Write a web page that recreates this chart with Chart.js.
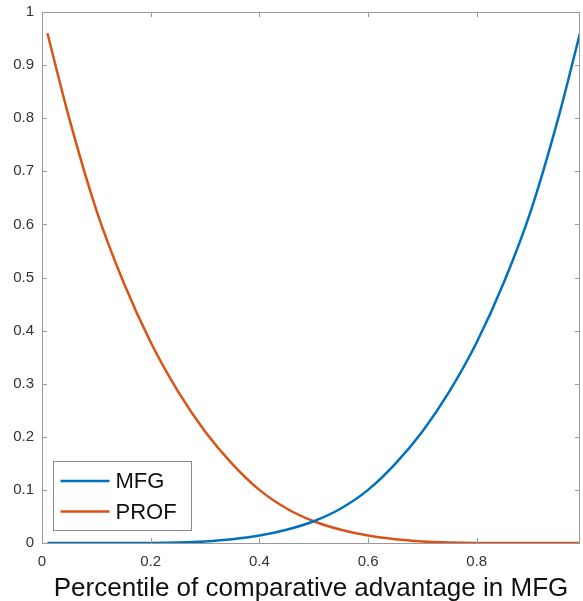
<!DOCTYPE html>
<html>
<head>
<meta charset="utf-8">
<script src="https://cdn.jsdelivr.net/npm/chart.js@4/dist/chart.umd.min.js"></script>
<style>
  html, body { margin: 0; padding: 0; background: #fff; }
  #wrap { width: 583px; height: 601px; }
</style>
</head>
<body>
<div id="wrap"><canvas id="chart"></canvas></div>
<script>
// percentile grid (x) and the two curves
const percentiles = [0.01, 0.05, 0.1, 0.15, 0.2, 0.25, 0.3, 0.35, 0.4, 0.45, 0.5,
                     0.55, 0.6, 0.65, 0.7, 0.75, 0.8, 0.85, 0.9, 0.95, 0.99];
const mfg  = [0, 0, 0, 0, 0.0002, 0.001, 0.003, 0.007, 0.014, 0.025, 0.041,
              0.065, 0.1, 0.149, 0.21, 0.286, 0.378, 0.491, 0.627, 0.8, 0.96];
const prof = [0.96, 0.8, 0.627, 0.491, 0.378, 0.286, 0.21, 0.149, 0.1, 0.065, 0.041,
              0.025, 0.014, 0.007, 0.003, 0.001, 0.0002, 0, 0, 0, 0];
const seriesNames = ["MFG", "PROF"];
const xTicks = [0, 0.2, 0.4, 0.6, 0.8];
const yTicks = [0, 0.1, 0.2, 0.3, 0.4, 0.5, 0.6, 0.7, 0.8, 0.9, 1];
const xTitle = "Percentile of comparative advantage in MFG";

const FONT = "'Liberation Sans', Arial, Helvetica, sans-serif";
const AXIS_COLOR = "#9a9a9a";

function toPoints(ys) {
    return percentiles.map((x, i) => ({ x: x, y: ys[i] }));
}

// box round the plot, ticks pointing inwards, legend in the lower left
const boxAndLegend = {
    id: "boxAndLegend",
    afterDatasetsDraw(chart) {
        const ctx = chart.ctx;
        const a = chart.chartArea;
        const xs = chart.scales.x, ys = chart.scales.y;
        ctx.save();
        ctx.strokeStyle = AXIS_COLOR;
        ctx.lineWidth = 1;
        ctx.strokeRect(a.left + 0.5, a.top + 0.5, a.right - a.left - 1, a.bottom - a.top);
        ctx.beginPath();
        xTicks.concat([1]).forEach(v => {
            const px = Math.round(xs.getPixelForValue(v)) + 0.5;
            ctx.moveTo(px, a.bottom); ctx.lineTo(px, a.bottom - 5);
            ctx.moveTo(px, a.top); ctx.lineTo(px, a.top + 5);
        });
        yTicks.forEach(v => {
            const py = Math.round(ys.getPixelForValue(v)) + 0.5;
            ctx.moveTo(a.left, py); ctx.lineTo(a.left + 5, py);
            ctx.moveTo(a.right, py); ctx.lineTo(a.right - 5, py);
        });
        ctx.stroke();

        // legend
        const lx = 53.5, ly = 461.5, lw = 138, lh = 69;
        ctx.fillStyle = "#fff";
        ctx.fillRect(lx, ly, lw, lh);
        ctx.strokeStyle = "#8a8a8a";
        ctx.strokeRect(lx, ly, lw, lh);
        ctx.font = "22px " + FONT;
        ctx.textBaseline = "middle";
        chart.data.datasets.forEach((ds, i) => {
            const cy = ly + 19.5 + i * 30.5;
            ctx.strokeStyle = ds.borderColor;
            ctx.lineWidth = 2.5;
            ctx.beginPath();
            ctx.moveTo(lx + 7, cy); ctx.lineTo(lx + 56, cy);
            ctx.stroke();
            ctx.fillStyle = "#111";
            ctx.fillText(ds.label, lx + 62, cy + 1);
        });
        ctx.restore();
    }
};

new Chart(document.getElementById("chart").getContext("2d"), {
    type: "line",
    data: {
        datasets: [
            {
                label: seriesNames[0],
                data: toPoints(mfg),
                borderColor: "#0072BD",
                borderWidth: 2.5,
                pointRadius: 0,
                cubicInterpolationMode: "monotone",
                fill: false
            },
            {
                label: seriesNames[1],
                data: toPoints(prof),
                borderColor: "#D95319",
                borderWidth: 2.5,
                pointRadius: 0,
                cubicInterpolationMode: "monotone",
                fill: false
            }
        ]
    },
    options: {
        responsive: true,
        maintainAspectRatio: false,
        animation: false,
        layout: { padding: { top: 12, right: 3, left: 0, bottom: 0 } },
        plugins: {
            legend: { display: false },
            tooltip: { enabled: false }
        },
        scales: {
            x: {
                type: "linear",
                min: 0,
                max: 0.99,
                grid: { display: false, drawTicks: false },
                border: { display: false },
                afterBuildTicks: s => { s.ticks = xTicks.map(v => ({ value: v })); },
                afterFit: s => { s.height = 58; s.paddingLeft = 0; s.paddingRight = 0; },
                ticks: {
                    padding: 10,
                    maxRotation: 0,
                    color: "#333",
                    font: { family: FONT, size: 15 },
                    callback: v => String(Number(v.toFixed(1)))
                },
                title: {
                    display: true,
                    text: xTitle,
                    color: "#111",
                    font: { family: FONT, size: 26 },
                    padding: { top: 0, bottom: -3 }
                }
            },
            y: {
                type: "linear",
                min: 0,
                max: 1,
                grid: { display: false, drawTicks: false },
                border: { display: false },
                afterBuildTicks: s => { s.ticks = yTicks.map(v => ({ value: v })); },
                afterFit: s => { s.width = 42; s.paddingTop = 0; s.paddingBottom = 0; },
                ticks: {
                    padding: 8,
                    color: "#333",
                    font: { family: FONT, size: 15 },
                    callback: v => String(Number(v.toFixed(1)))
                }
            }
        }
    },
    plugins: [boxAndLegend]
});
</script>
</body>
</html>
